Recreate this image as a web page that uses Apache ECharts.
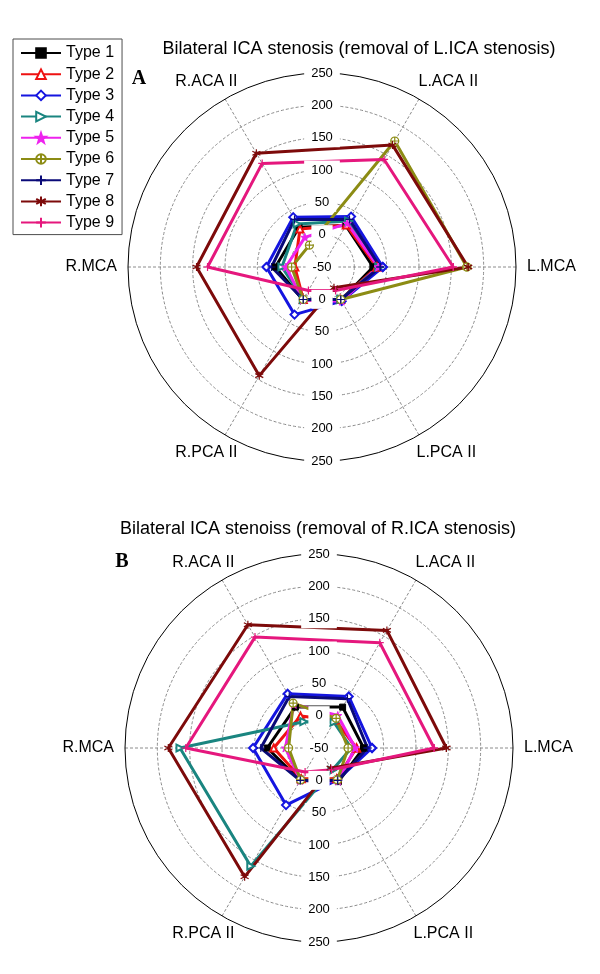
<!DOCTYPE html>
<html><head><meta charset="utf-8">
<script src="https://cdn.jsdelivr.net/npm/echarts@6/dist/echarts.min.js"></script>
<style>html,body{margin:0;padding:0;background:#fff}#c{width:600px;height:974px}</style>
</head><body><div id="c"></div>
<script>
// ---------- data ----------
const axisNames = ['L.MCA', 'L.ACA II', 'R.ACA II', 'R.MCA', 'R.PCA II', 'L.PCA II'];
const typeNames = ['Type 1', 'Type 2', 'Type 3', 'Type 4', 'Type 5', 'Type 6', 'Type 7', 'Type 8', 'Type 9'];
const radiusMin = -50, radiusMax = 250, radiusStep = 50;
const titleA = 'Bilateral ICA stenosis (removal of L.ICA stenosis)';
const titleB = 'Bilateral ICA stenoiss (removal of R.ICA stenosis)';

// Panel A (values per axis, order of axisNames)
const a_type1 = [29, 24, 21, 22, 9, 9];
const a_type2 = [35, 25, 18, -8, 8, 8];
const a_type3 = [44, 40, 39, 36, 35, 11];
const a_type4 = [38, 32, 27, 12, 8, 8];
const a_type5 = [37, 28, 3, 6, 9, 11];
const a_type6 = [174, 175, -11, -3, 8, 8];
const a_type7 = [40, 35, 35, 28, 8, 8];
const a_type8 = [176, 168, 153, 144, 144, -13];
const a_type9 = [153, 142, 135, 127, -8, -8];

// Panel B
const b_type1 = [19, 23, 23, 30, 8, 10];
const b_type2 = [8, 0, 7, 20, 5, 5];
const b_type3 = [32, 42, 47, 52, 52, 7];
const b_type4 = [0, -4, -3, 165, 161, -10];
const b_type5 = [6, 8, 28, 2, 8, 9];
const b_type6 = [-5, 3, 30, -3, 7, 7];
const b_type7 = [25, 38, 42, 40, 8, 8];
const b_type8 = [147, 160, 170, 183, 180, -14];
const b_type9 = [128, 138, 148, 156, -7, -11];

const panelA = [a_type1, a_type2, a_type3, a_type4, a_type5, a_type6, a_type7, a_type8, a_type9];
const panelB = [b_type1, b_type2, b_type3, b_type4, b_type5, b_type6, b_type7, b_type8, b_type9];

// ---------- styles ----------
const FONT = '"Liberation Sans", Arial, Helvetica, sans-serif';
const colors = ['#000000', '#ee1111', '#1515e0', '#1a8580', '#ee22ee', '#8c8c14', '#0a0a78', '#7d0a0a', '#e5177d'];
const starPath = 'path://M0,-10L2.35,-3.24L9.51,-3.09L3.8,1.24L5.88,8.09L0,4L-5.88,8.09L-3.8,1.24L-9.51,-3.09L-2.35,-3.24Z';
const circlePlusPath = 'path://M10,0A10,10,0,1,1,-10,0A10,10,0,1,1,10,0ZM0,-10L0,10M-10,0L10,0';
const plusPath = 'path://M0,-10L0,10M-10,0L10,0';
const asteriskPath = 'path://M0,-10L0,10M-8.66,-5L8.66,5M-8.66,5L8.66,-5';
const markers = [
  { symbol: 'rect', size: 6 },
  { symbol: 'emptyTriangle', size: 7 },
  { symbol: 'emptyDiamond', size: 8 },
  { symbol: 'emptyTriangle', size: 7, rotate: -90 },
  { symbol: starPath, size: 8 },
  { symbol: circlePlusPath, size: 8, open: true },
  { symbol: plusPath, size: 8, stroke: true },
  { symbol: asteriskPath, size: 8, stroke: true },
  { symbol: plusPath, size: 8, stroke: true }
];
const gridGrey = '#8c8c8c';
const dash = [3, 2];

// one full turn split evenly between the axes
const angleStep = 360 / axisNames.length;
// per-label nudges (style only) so names sit as in the original figure
const nameRich = {
  n0: {}, n1: { padding: [0, 0, 0, -6] }, n2: { padding: [0, -18, 0, 0] },
  n3: {}, n4: { padding: [0, -18, 0, 0] }, n5: { padding: [0, 0, 0, -8] }
};

function gridAngle(pi) {
  return {
    polarIndex: pi, type: 'value', min: 0, max: 360, interval: angleStep, startAngle: 0, clockwise: false,
    axisLine: { show: true, lineStyle: { color: '#000', width: 1 } },
    axisTick: { show: false },
    axisLabel: {
      show: true, margin: 11, fontSize: 16, color: '#000', fontFamily: FONT,
      formatter: function (v) {
        const k = Math.round(v / angleStep) % axisNames.length;
        return '{n' + k + '|' + axisNames[k] + '}';
      },
      rich: nameRich
    },
    splitLine: { show: true, lineStyle: { color: gridGrey, width: 1, type: dash } }
  };
}
function gridRadius(pi) {
  return {
    polarIndex: pi, type: 'value', min: radiusMin, max: radiusMax, interval: radiusStep,
    axisLine: { show: false }, axisTick: { show: false }, axisLabel: { show: false },
    splitLine: { show: true, lineStyle: { color: [gridGrey, gridGrey, gridGrey, gridGrey, gridGrey, gridGrey, 'rgba(0,0,0,0)'], width: 1, type: dash } }
  };
}
function labelAngle(pi, start) {
  return { polarIndex: pi, type: 'value', min: 0, max: 360, startAngle: start, show: false };
}
function labelRadius(pi, hideMin) {
  return {
    polarIndex: pi, type: 'value', min: radiusMin, max: radiusMax, interval: radiusStep, z: 10,
    axisLine: { show: false }, axisTick: { show: false }, splitLine: { show: false },
    axisLabel: {
      show: true, margin: 0, align: 'center', verticalAlign: 'middle', showMinLabel: !hideMin,
      backgroundColor: '#fff', padding: [3, 7], fontSize: 13, color: '#000', fontFamily: FONT
    }
  };
}

function makeSeries(vals, i, pi) {
  const c = colors[i], m = markers[i];
  const pts = vals.map(function (v, k) { return [v, k * angleStep]; });
  pts.push([vals[0], 360]);
  return {
    type: 'line', name: typeNames[i], coordinateSystem: 'polar', polarIndex: pi,
    data: pts,
    symbol: m.symbol, symbolSize: m.size, symbolRotate: m.rotate || 0,
    showSymbol: true, showAllSymbol: true, silent: true,
    lineStyle: { color: c, width: 3 },
    itemStyle: { color: m.open ? '#fff' : c, borderColor: c, borderWidth: (m.stroke || m.open) ? 1.2 : 1 },
    emphasis: { disabled: true }
  };
}

const cA = [322, 267], cB = [319, 748], R = 194;
const series = [];
panelA.forEach(function (v, i) { series.push(makeSeries(v, i, 0)); });
panelB.forEach(function (v, i) { series.push(makeSeries(v, i, 3)); });

const option = {
  animation: false,
  backgroundColor: '#fff',
  textStyle: { fontFamily: FONT },
  title: [
    { text: titleA, left: 359, top: 40, textAlign: 'center', padding: 0, textStyle: { fontSize: 18, fontWeight: 'normal', color: '#000', fontFamily: FONT } },
    { text: 'A', left: 139, top: 69, textAlign: 'center', padding: 0, textStyle: { fontSize: 20, fontWeight: 'bold', color: '#000', fontFamily: '"Liberation Serif", "DejaVu Serif", serif' } },
    { text: titleB, left: 318, top: 520, textAlign: 'center', padding: 0, textStyle: { fontSize: 18, fontWeight: 'normal', color: '#000', fontFamily: FONT } },
    { text: 'B', left: 122, top: 552, textAlign: 'center', padding: 0, textStyle: { fontSize: 20, fontWeight: 'bold', color: '#000', fontFamily: '"Liberation Serif", "DejaVu Serif", serif' } }
  ],
  legend: {
    data: typeNames, orient: 'vertical', left: 13, top: 39,
    padding: [6, 8, 4, 7], itemWidth: 40, itemHeight: 12, itemGap: 5.2,
    borderColor: '#4d4d4d', borderWidth: 1, backgroundColor: '#fff',
    textStyle: { fontSize: 16, color: '#000', fontFamily: FONT },
    selectedMode: false
  },
  polar: [
    { center: cA, radius: R }, { center: cA, radius: R }, { center: cA, radius: R },
    { center: cB, radius: R }, { center: cB, radius: R }, { center: cB, radius: R }
  ],
  angleAxis: [gridAngle(0), labelAngle(1, 90), labelAngle(2, 270), gridAngle(3), labelAngle(4, 90), labelAngle(5, 270)],
  radiusAxis: [gridRadius(0), labelRadius(1, false), labelRadius(2, true), gridRadius(3), labelRadius(4, false), labelRadius(5, true)],
  series: series
};

const chart = echarts.init(document.getElementById('c'), null, { renderer: 'canvas' });
chart.setOption(option);
</script>
</body></html>
